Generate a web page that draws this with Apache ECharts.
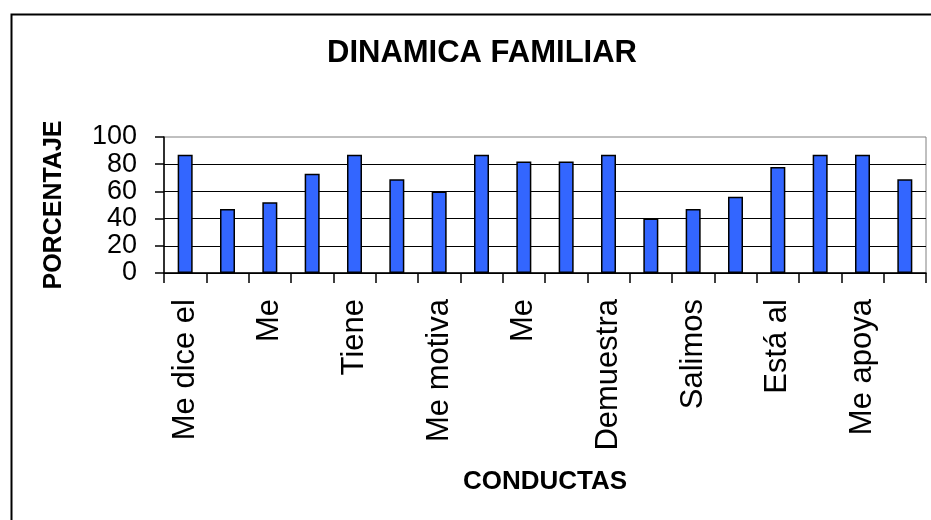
<!DOCTYPE html>
<html>
<head>
<meta charset="utf-8">
<script src="https://cdn.jsdelivr.net/npm/echarts@6/dist/echarts.min.js"></script>
<style>
html, body { margin: 0; padding: 0; background: #fff; }
#chart { width: 931px; height: 520px; }
</style>
</head>
<body>
<div id="chart"></div>
<script>
// conductas (only every other label is shown on the axis)
var categories = ['Me dice el', '', 'Me', '', 'Tiene', '', 'Me motiva', '', 'Me', '',
                  'Demuestra', '', 'Salimos', '', 'Está al', '', 'Me apoya', ''];
var values = [87, 47, 52, 73, 87, 69, 60, 87, 82, 82, 87, 40, 47, 56, 78, 87, 87, 69];
var yTicks = [0, 20, 40, 60, 80, 100];

var font = '"Liberation Sans", Arial, sans-serif';
var chart = echarts.init(document.getElementById('chart'));

chart.setOption({
    animation: false,
    backgroundColor: '#fff',
    title: {
        text: 'DINAMICA FAMILIAR',
        left: 477,
        textAlign: 'center',
        top: 33,
        textStyle: { fontFamily: font, fontSize: 31, fontWeight: 'bold', color: '#000' }
    },
    graphic: [{
        type: 'rect',
        left: 9, top: 12,
        shape: { width: 1000, height: 600 },
        style: { fill: 'none', stroke: '#000', lineWidth: 2 },
        z: -1
    }],
    grid: {
        left: 164, right: 5, top: 137, bottom: 247,
        show: true,
        borderColor: '#808080',
        borderWidth: 1,
        backgroundColor: '#fff'
    },
    xAxis: {
        type: 'category',
        data: categories,
        name: 'CONDUCTAS',
        nameLocation: 'middle',
        nameGap: 196,
        nameTextStyle: { fontFamily: font, fontSize: 26, fontWeight: 'bold', color: '#000' },
        axisLine: { lineStyle: { color: '#000', width: 1.5 } },
        axisTick: { show: true, length: 10, alignWithLabel: false, interval: 0, lineStyle: { color: '#000', width: 1.5 } },
        axisLabel: {
            interval: 1,
            rotate: 90,
            margin: 26,
            fontFamily: font,
            fontSize: 31,
            color: '#000'
        }
    },
    yAxis: {
        type: 'value',
        min: yTicks[0],
        max: yTicks[yTicks.length - 1],
        interval: 20,
        name: 'PORCENTAJE',
        nameLocation: 'middle',
        nameGap: 97,
        nameTextStyle: { fontFamily: font, fontSize: 25, fontWeight: 'bold', color: '#000' },
        axisLine: { show: true, lineStyle: { color: '#000', width: 1.5 } },
        axisTick: { show: true, length: 9, lineStyle: { color: '#000', width: 1.5 } },
        splitLine: { show: true, showMaxLine: false, lineStyle: { color: '#000', width: 1.2 } },
        axisLabel: {
            margin: 27,
            showMinLabel: true,
            showMaxLabel: true,
            hideOverlap: false,
            fontFamily: font,
            fontSize: 27,
            lineHeight: 22,
            color: '#000'
        }
    },
    series: [{
        type: 'bar',
        data: values,
        barWidth: 15,
        itemStyle: { color: '#3366FF', borderColor: '#000', borderWidth: 1.5 }
    }]
});
</script>
</body>
</html>
